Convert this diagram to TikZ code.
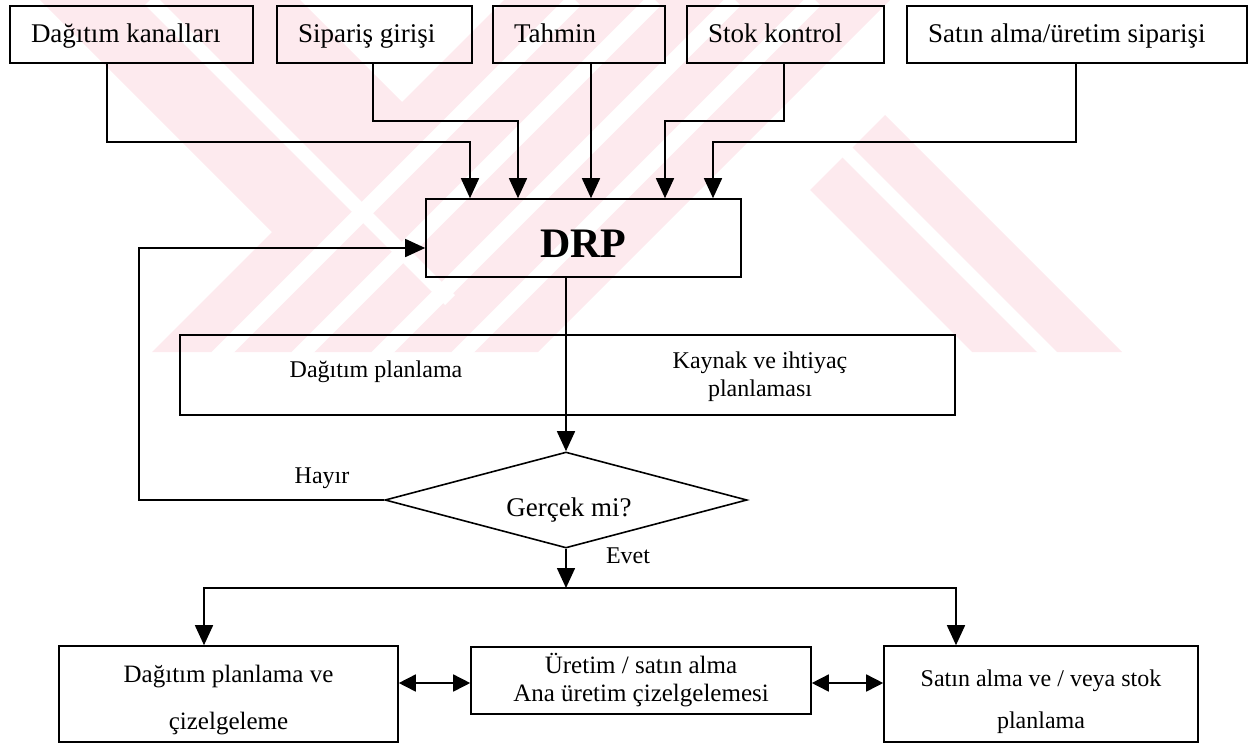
\documentclass[tikz,border=0pt]{standalone}
\usepackage{fontspec}
\setmainfont{Liberation Serif}
\usetikzlibrary{arrows.meta,shapes.geometric,calc}
\definecolor{wmpink}{RGB}{253,234,238}
\begin{document}
\begin{tikzpicture}[x=1pt,y=-1pt,
  line width=1.6pt,
  box/.style={draw, line width=1.6pt, rectangle, inner sep=0pt},
  topbox/.style={box, minimum height=57pt, inner xsep=21pt, align=flush left,
    text height=16pt, text depth=0pt, font=\fontsize{27}{32}\selectfont},
  arr/.style={-{Triangle[length=20pt,width=18pt]}},
  dblarr/.style={{Triangle[length=17pt,width=17pt]}-{Triangle[length=17pt,width=17pt]}},
  lbl/.style={font=\fontsize{24}{28}\selectfont, inner sep=0pt},
]
\useasboundingbox (0,0) rectangle (1258,753);

% light striped emblem in the background
\begin{scope}
  \clip (0,0) rectangle (1258,352);
  \fill[wmpink] (504,0) -- (890,0) -- (538,352) -- (152,352) -- cycle;
  \fill[wmpink] (40,0) -- (300,0) -- (500,200) -- (370,330) -- cycle;
  \fill[wmpink] (810,190) -- (885,115) -- (1122,352) -- (972,352) -- cycle;
  \foreach \c in {575,655,735,815}
    \draw[white, line width=16pt] (\c,0) -- (\c-400,400);
  \draw[white, line width=14pt] (810,115) -- (1100,405);
  \draw[white, line width=14pt] (150,0) -- (450,300);
\end{scope}

% input boxes
\node[topbox, text width=201pt] (b1) at (131.5,34.5) {Dağıtım kanalları};
\node[topbox, text width=153pt] (b2) at (374.5,34.5) {Sipariş girişi};
\node[topbox, text width=130pt] (b3) at (579,34.5) {Tahmin};
\node[topbox, text width=155pt] (b4) at (785.5,34.5) {Stok kontrol};
\node[topbox, text width=298pt] (b5) at (1077,34.5) {Satın alma/üretim siparişi};

% central block
\node[box, minimum width=315pt, minimum height=78pt, text height=38pt, text depth=0pt,
  font=\fontsize{42}{48}\selectfont\bfseries] (drp) at (583.5,238) {DRP};

% planning band
\node[box, minimum width=775pt, minimum height=80pt] (plan) at (567.5,375) {};
\node[lbl] (planA) at (376,372) {Dağıtım planlama};
\node[lbl, align=flush center] (planB) at (760,377) {Kaynak ve ihtiyaç\\planlaması};

% decision
\node[draw, diamond, aspect=3.77, minimum width=362pt, minimum height=96pt,
  inner sep=0pt] (dia) at (566,500) {};
\node[font=\fontsize{27}{32}\selectfont, inner sep=0pt] (diaT) at (569,510) {Gerçek mi?};
\node[lbl] (no) at (322,478) {Hayır};
\node[lbl] (yes) at (628,556) {Evet};

% output boxes
\node[box, minimum width=339pt, minimum height=96pt] (dl) at (228.5,694) {};
\node[inner sep=0pt, align=flush center, font=\fontsize{25}{47}\selectfont]
  (dlT) at (228.5,700) {Dağıtım planlama ve\\çizelgeleme};
\node[box, minimum width=340pt, minimum height=67pt, align=flush center,
  font=\fontsize{25}{28}\selectfont] (mid) at (641,680.5) {Üretim / satın alma\\Ana üretim çizelgelemesi};
\node[box, minimum width=314pt, minimum height=96pt] (dr) at (1041,694) {};
\node[inner sep=0pt, align=flush center, font=\fontsize{24}{42}\selectfont]
  (drT) at (1041,701.5) {Satın alma ve / veya stok\\planlama};

% routing points
\coordinate (j1) at (107,142);  \coordinate (a1) at (470,142);
\coordinate (j2) at (373,121);  \coordinate (a2) at (518,121);
\coordinate (a3) at (591,100);
\coordinate (j4) at (784,121);  \coordinate (a4) at (665,121);
\coordinate (j5) at (1076,142); \coordinate (a5) at (713,142);
\coordinate (l1) at (139,500);  \coordinate (l2) at (139,248);
\coordinate (sp) at (566,588);
\coordinate (sL) at (204,588);  \coordinate (sR) at (956,588);
\coordinate (dA) at (0,683);

% inputs into DRP
\draw[arr] (b1.south -| j1) -- (j1) -- (a1) -- (a1 |- drp.north);
\draw[arr] (b2.south -| j2) -- (j2) -- (a2) -- (a2 |- drp.north);
\draw[arr] (b3.south -| a3) -- (a3 |- drp.north);
\draw[arr] (b4.south -| j4) -- (j4) -- (a4) -- (a4 |- drp.north);
\draw[arr] (b5.south -| j5) -- (j5) -- (a5) -- (a5 |- drp.north);

% DRP to decision and feedback loop
\draw[arr] (dia.north |- drp.south) -- (dia.north);
\draw[arr] (dia.west) -- (l1) -- (l2) -- (drp.west |- l2);

% decision to outputs
\draw[arr] (dia.south) -- (sp);
\draw[arr] (sp) -- (sL) -- (sL |- dl.north);
\draw[arr] (sp) -- (sR) -- (sR |- dr.north);

% links between outputs
\draw[dblarr] (dl.east |- dA) -- (mid.west |- dA);
\draw[dblarr] (mid.east |- dA) -- (dr.west |- dA);
\end{tikzpicture}
\end{document}
